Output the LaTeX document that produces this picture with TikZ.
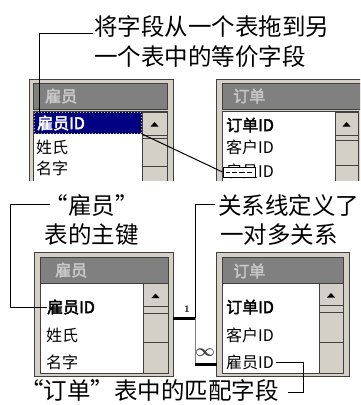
\documentclass[tikz,border=0pt]{standalone}
\usepackage{fontspec}
\newfontfamily\cjk{Noto Sans CJK SC}[AutoFakeBold=2.5]
\definecolor{winbg}{HTML}{D4D0C8}
\definecolor{winedge}{HTML}{404040}
\definecolor{ttlbg}{HTML}{808080}
\definecolor{ttltxc}{HTML}{C8C8C8}
\definecolor{selnavy}{HTML}{000080}
\tikzset{
 frame/.style={fill=winbg, draw=winedge, line width=1pt},
 ttlbar/.style={fill=ttlbg, draw=winedge, line width=0.8pt},
 listbox/.style={fill=white, draw=winedge, line width=0.8pt},
 sbar/.style={fill=winbg, draw=winedge, line width=0.8pt},
 lbl/.style={font=\cjk\fontsize{23.5}{24}\selectfont, inner sep=0pt},
 rowtx/.style={font=\cjk\fontsize{16}{16}\selectfont, inner sep=0pt, anchor=west},
 keytx/.style={font=\cjk\bfseries\fontsize{16}{16}\selectfont, inner sep=0pt, anchor=west},
 ttltx/.style={font=\cjk\bfseries\fontsize{16}{16}\selectfont, text=ttltxc, inner sep=0pt, anchor=west},
 leader/.style={draw=black, line width=1pt},
 reln/.style={draw=black, line width=3pt},
}
\begin{document}
\begin{tikzpicture}[x=1pt,y=-1pt]
\useasboundingbox[fill=white] (0,0) rectangle (360,405);

% ---------- top panel (clipped) ----------
\begin{scope}
\clip (0,0) rectangle (360,180);
% left table
\draw[frame] (29,79) rectangle (173,200);
\draw[ttlbar] (33,83) rectangle (167,109);
\draw[listbox] (33,111) rectangle (142,200);
\draw[sbar] (142,111) rectangle (167,200);
\draw[sbar] (142,112) rectangle (167,135);
\fill (150.5,126.5) -- (158.5,126.5) -- (154.5,122) -- cycle;
\draw[winedge, line width=0.8pt] (142,138) -- (167,138) (142,166) -- (167,166);
\fill[selnavy] (34,112) rectangle (142,134);
\draw[yellow!85!black, dotted, line width=1pt] (34.5,112.5) rectangle (141.5,133.5);
% right table
\draw[frame] (216,79) rectangle (365,200);
\draw[ttlbar] (222,83) rectangle (365,109);
\draw[listbox] (222,111) rectangle (335,200);
\draw[sbar] (335,111) rectangle (358,200);
\draw[sbar] (335,112) rectangle (358,135);
\fill (342.5,126.5) -- (350.5,126.5) -- (346.5,122) -- cycle;
\draw[winedge, line width=0.8pt] (335,140) -- (358,140) (335,165) -- (358,165);
\end{scope}

\node[ttltx] (t1) at (45,96) {雇员};
\node[ttltx] (t2) at (233,96) {订单};
\node[keytx, text=white] (a1) at (37,123) {雇员ID};
\node[rowtx] (a2) at (36,147) {姓氏};
\node[rowtx] (a3) at (36,168) {名字};
\node[keytx] (b1) at (226,125) {订单ID};
\node[rowtx] (b2) at (226,147) {客户ID};
\node[rowtx] (b3) at (226,171) {雇员ID};

% drag line and drag icon
\coordinate (dragstart) at (142,134);
\node[draw=black, fill=white, line width=1pt, minimum width=32pt, minimum height=10pt, inner sep=0pt] (icon) at (239,172) {};
\draw[black, line width=1pt] (dragstart) -- (icon.west);
\draw[black, line width=0.7pt] (226,172) -- (230,172) (232,172) -- (237,172) (239,172) -- (245,172) (247,172) -- (252,172);

% top label
\node[lbl, anchor=west] (top1) at (94,27) {将字段从一个表拖到另};
\node[lbl, anchor=west] (top2) at (94,57) {一个表中的等价字段};
\coordinate (ctop) at (93,33);
\coordinate (ctopend) at (39,113);
\draw[leader] (ctop) -| (ctopend);

% ---------- bottom panel ----------
% left table
\draw[frame] (34,252) rectangle (173,376);
\draw[ttlbar] (40,257) rectangle (168,283);
\draw[listbox] (40,283) rectangle (143,373);
\draw[sbar] (143,283) rectangle (168,373);
\draw[sbar] (143,283) rectangle (168,306);
\fill (151.5,298) -- (159.5,298) -- (155.5,293.5) -- cycle;
\draw[winedge, line width=0.8pt] (143,313) -- (168,313) (143,342) -- (168,342);
% right table
\draw[frame] (216,252) rectangle (349,376);
\draw[ttlbar] (222,257) rectangle (343,283);
\draw[listbox] (222,283) rectangle (319,373);
\draw[sbar] (319,283) rectangle (343,373);
\draw[sbar] (319,283) rectangle (343,305);
\fill (327,297.5) -- (335,297.5) -- (331,293) -- cycle;
\draw[winedge, line width=0.8pt] (319,312) -- (343,312) (319,342) -- (343,342);

\node[ttltx] (t3) at (55,270) {雇员};
\node[ttltx] (t4) at (233,271) {订单};
\node[keytx] (c1) at (47,307) {雇员ID};
\node[rowtx] (c2) at (46,335) {姓氏};
\node[rowtx] (c3) at (46,362) {名字};
\node[keytx] (d1) at (226,307) {订单ID};
\node[rowtx] (d2) at (226,335) {客户ID};
\node[rowtx] (d3) at (226,362) {雇员ID};

% relationship line
\coordinate (rl1) at (173,318);
\coordinate (rl2) at (195,318);
\coordinate (rl3) at (195,364);
\coordinate (rl4) at (217,364);
\draw[reln] (rl1) -- (rl2);
\draw[gray, line width=0.9pt] (rl2) -- (rl3);
\draw[reln] (rl3) -- (rl4);
\node[font=\bfseries\fontsize{10}{10}\selectfont, inner sep=0pt] (one) at (187,309) {1};
\node[font=\boldmath\fontsize{16}{16}\selectfont, inner sep=0pt, text=black!75] (many) at (205,353) {$\infty$};

% labels bottom
\node[lbl] (pk1) at (92,206) {“雇员”};
\node[lbl] (pk2) at (92,235) {表的主键};
\coordinate (cpk) at (50,204);
\coordinate (cpkc) at (10,204);
\draw[leader] (cpk) -- (cpkc) |- (c1.west);

\node[lbl, anchor=west] (rel1) at (218,206) {关系线定义了};
\node[lbl, anchor=west] (rel2) at (220,235) {一对多关系};
\coordinate (crel) at (215,204);
\draw[leader] (crel) -| (rl2);

\node[lbl, anchor=west] (fk) at (20,391) {“订单”表中的匹配字段};
\coordinate (cfk) at (288,392);
\coordinate (cfkc) at (303,392);
\draw[leader] (cfk) -- (cfkc) |- ([xshift=2pt]d3.east);
\end{tikzpicture}
\end{document}
